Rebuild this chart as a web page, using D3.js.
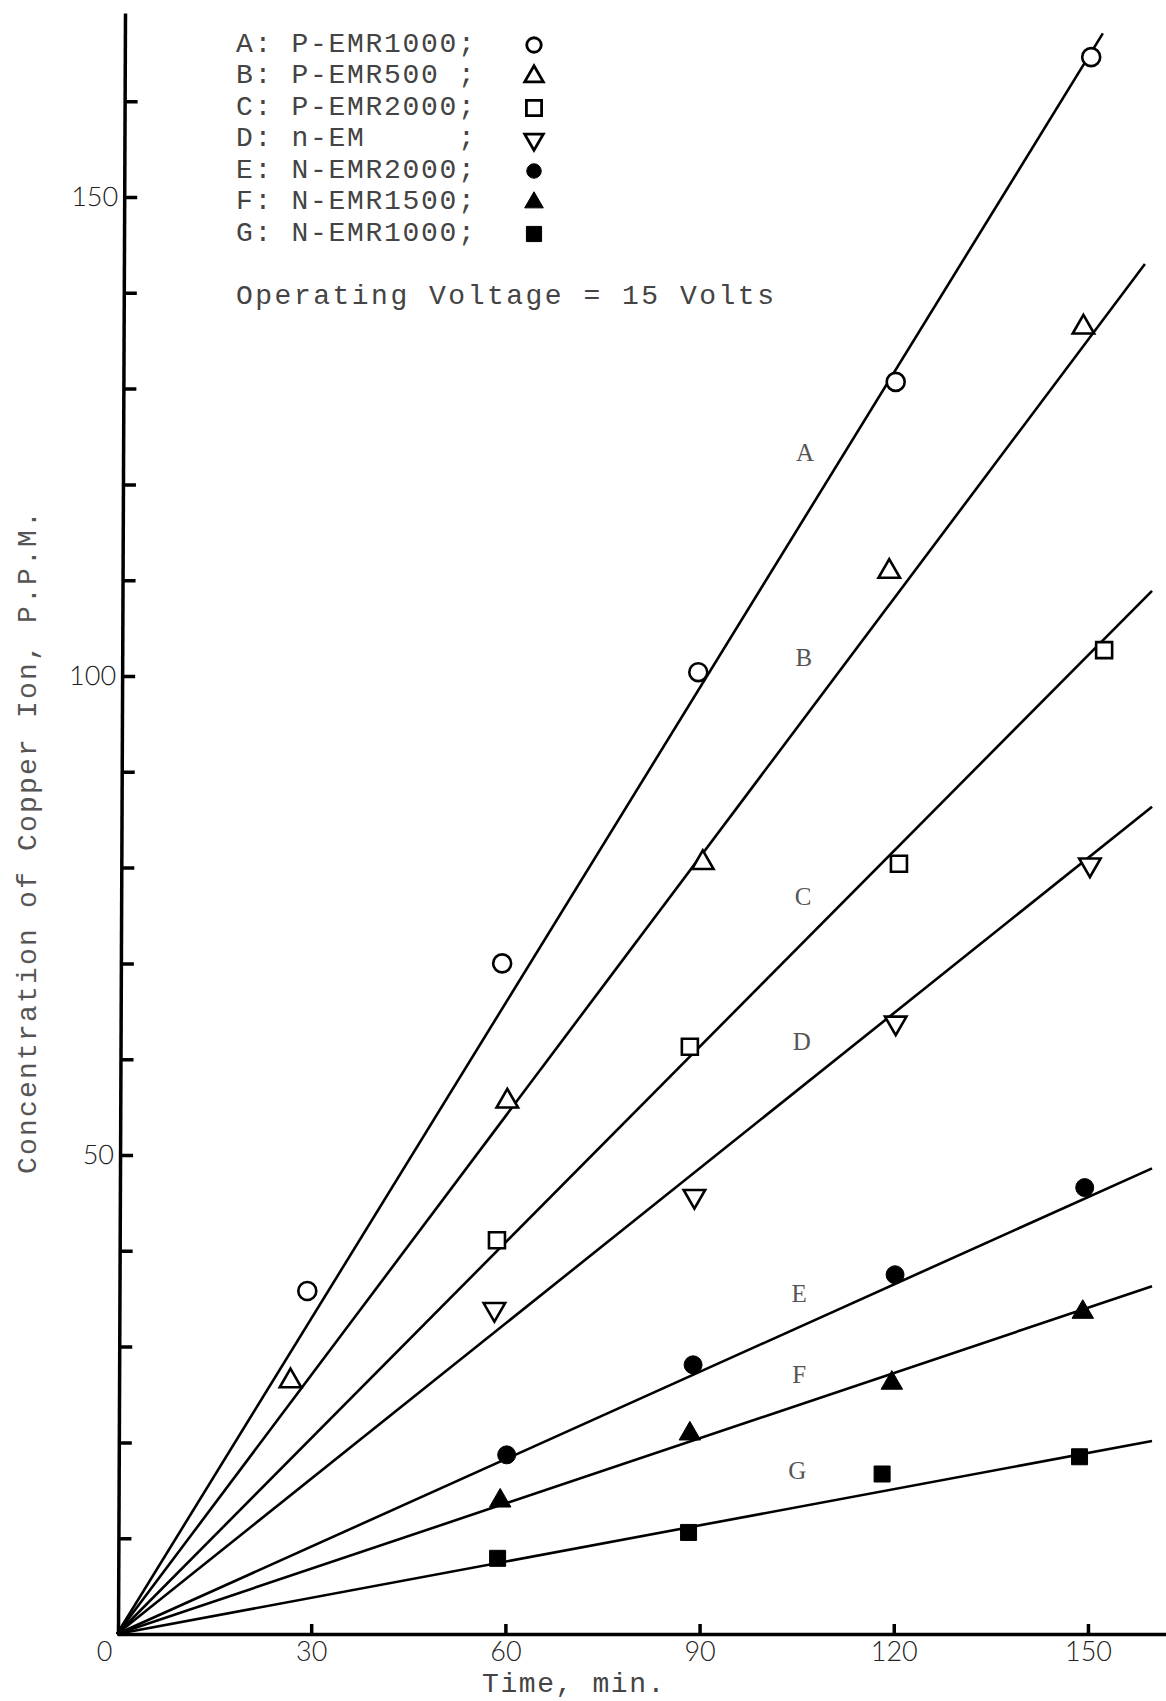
<!DOCTYPE html>
<html>
<head>
<meta charset="utf-8">
<script src="https://cdn.jsdelivr.net/npm/d3@7"></script>
<style>
  html, body { margin: 0; padding: 0; background: #fff; }
  svg { display: block; }
  text { white-space: pre; }
</style>
</head>
<body>
<svg id="chart" width="1166" height="1701"></svg>
<script>
// Copper ion concentration vs. time for seven membrane runs (15 V)
const seriesKeys  = ["A", "B", "C", "D", "E", "F", "G"];
const seriesNames = ["P-EMR1000", "P-EMR500", "P-EMR2000", "n-EM", "N-EMR2000", "N-EMR1500", "N-EMR1000"];

// measured points: time (min) and concentration (p.p.m.)
const timesA = [29.4, 59.5, 89.8, 120.3, 150.5];
const concA  = [35.8, 70.0, 100.4, 130.7, 164.6];
const timesB = [26.8, 60.3, 90.5, 119.3, 149.3];
const concB  = [26.4, 55.6, 80.5, 110.9, 136.4];
const timesC = [58.7, 88.5, 120.8, 152.5];
const concC  = [41.1, 61.3, 80.4, 102.7];
const timesD = [58.3, 89.2, 120.3, 150.3];
const concD  = [33.9, 45.7, 63.8, 80.3];
const timesE = [60.2, 89.0, 120.2, 149.5];
const concE  = [18.7, 28.1, 37.5, 46.6];
const timesF = [59.2, 88.5, 119.7, 149.2];
const concF  = [13.9, 20.9, 26.2, 33.6];
const timesG = [58.8, 88.3, 118.2, 148.7];
const concG  = [7.9, 10.6, 16.7, 18.5];

// straight lines through the origin: rate (p.p.m./min) and last time drawn
const fitRate = [1.097, 0.9005, 0.681, 0.540, 0.304, 0.227, 0.126];
const fitEnd  = [152.3, 158.8, 159.9, 159.9, 159.9, 159.9, 159.9];

// letter tags placed beside each line (time, concentration)
const tagTime = [106.3, 106.1, 106.0, 105.8, 105.4, 105.4, 105.1];
const tagConc = [123.3, 101.9, 77.0, 61.8, 35.5, 27.1, 17.1];

// axis ticks
const xTicks = [0, 30, 60, 90, 120, 150];
const yTicks = [10, 20, 30, 40, 50, 60, 70, 80, 90, 100, 110, 120, 130, 140, 150, 160];
const yLabelled = [50, 100, 150];

const legendNote = "Operating Voltage = 15 Volts";
const xTitle = "Time, min.";
const yTitle = "Concentration of Copper Ion, P.P.M.";

const seriesTimes = [timesA, timesB, timesC, timesD, timesE, timesF, timesG];
const seriesConc  = [concA, concB, concC, concD, concE, concF, concG];

// marker styling per series
const markerShape = ["circle", "triangle", "square", "triangleDown", "circle", "triangle", "square"];
const markerFill  = [false, false, false, false, true, true, true];

const svg = d3.select("#chart");

const x = d3.scaleLinear().domain([0, 162]).range([117, 117 + 162 * 6.473]);
const y = d3.scaleLinear().domain([0, 169.2]).range([1634, 1634 - 169.2 * 9.58]);

const mono = "'Liberation Mono', 'DejaVu Sans Mono', monospace";
const serif = "'Liberation Serif', 'DejaVu Serif', serif";
const digits = "Lato, 'Open Sans', 'DejaVu Sans', sans-serif";

function symbolPath(shape, size) {
  const type = shape === "circle" ? d3.symbolCircle
             : shape === "square" ? d3.symbolSquare
             : d3.symbolTriangle;
  return d3.symbol().type(type).size(size)();
}
function markerSize(shape, big) {
  if (shape === "circle") return big ? 254 : 165;
  if (shape === "square") return big ? 256 : 230;
  return big ? 200 : 150;
}

// ---- axes ----
const xAxis = d3.axisBottom(x)
  .tickValues(xTicks)
  .tickSizeInner(-10)
  .tickSizeOuter(0)
  .tickPadding(8)
  .tickFormat(d3.format("d"));

const gx = svg.append("g")
  .attr("transform", `translate(0,${y(0)})`)
  .call(xAxis);
gx.select(".domain").attr("stroke", "#000").attr("stroke-width", 3.5);
gx.selectAll(".tick line").attr("stroke", "#000").attr("stroke-width", 3.5)
  .filter(d => d === 0).remove();
gx.selectAll(".tick text")
  .attr("font-family", digits).attr("font-weight", 300)
  .attr("font-size", 27).attr("fill", "#222")
  .attr("dx", d => d === 0 ? -13 : 0);

const yAxis = d3.axisLeft(y)
  .tickValues(yTicks)
  .tickSizeInner(-13)
  .tickSizeOuter(0)
  .tickPadding(6)
  .tickFormat(d => yLabelled.includes(d) ? d3.format("d")(d) : "");

// the vertical axis leans very slightly to the right toward its top
const lean = Math.atan(-7 / 1621) * 180 / Math.PI;
const gy = svg.append("g")
  .attr("transform", `translate(${x(0) + 1},${y(0)}) skewX(${lean}) translate(0,${-y(0)})`)
  .call(yAxis);
gy.select(".domain").attr("stroke", "#000").attr("stroke-width", 3.5);
gy.selectAll(".tick line").attr("stroke", "#000").attr("stroke-width", 3.5);
gy.selectAll(".tick text")
  .attr("font-family", digits).attr("font-weight", 300)
  .attr("font-size", 27).attr("fill", "#222");

// axis titles
svg.append("text")
  .attr("x", 482).attr("y", 1692)
  .attr("font-family", mono).attr("font-size", 28)
  .attr("letter-spacing", 1.6).attr("fill", "#444")
  .text(xTitle);

svg.append("text")
  .attr("transform", `translate(36,${(y(0) + y(169.2)) / 2 + 18}) rotate(-90)`)
  .attr("text-anchor", "middle")
  .attr("font-family", mono).attr("font-size", 28)
  .attr("letter-spacing", 2.2).attr("fill", "#555")
  .text(yTitle);

// ---- fitted lines ----
const line = d3.line().x(d => x(d[0])).y(d => y(d[1]));
svg.append("g").selectAll("path")
  .data(seriesKeys.map((k, i) => [[0, 0], [fitEnd[i], fitRate[i] * fitEnd[i]]]))
  .join("path")
  .attr("d", line)
  .attr("fill", "none")
  .attr("stroke", "#000")
  .attr("stroke-width", 2.6);

// ---- measured points ----
seriesKeys.forEach((k, i) => {
  const pts = seriesTimes[i].map((t, j) => [t, seriesConc[i][j]]);
  const shape = markerShape[i];
  svg.append("g").selectAll("path")
    .data(pts)
    .join("path")
    .attr("d", symbolPath(shape, markerSize(shape, true)))
    .attr("transform", d => `translate(${x(d[0])},${y(d[1])})` + (shape === "triangleDown" ? " rotate(180)" : ""))
    .attr("fill", markerFill[i] ? "#000" : "#fff")
    .attr("stroke", "#000")
    .attr("stroke-width", markerFill[i] ? 1 : 2.6);
});

// ---- line tags ----
svg.append("g").selectAll("text")
  .data(seriesKeys)
  .join("text")
  .attr("x", (d, i) => x(tagTime[i]))
  .attr("y", (d, i) => y(tagConc[i]))
  .attr("text-anchor", "middle")
  .attr("dominant-baseline", "central")
  .attr("font-family", serif).attr("font-size", 25)
  .attr("fill", "#555")
  .text(d => d);

// ---- legend ----
const legend = svg.append("g");
const rowY = i => 44 + i * 31.5;
seriesKeys.forEach((k, i) => {
  legend.append("text")
    .attr("x", 236).attr("y", rowY(i))
    .attr("dominant-baseline", "central")
    .attr("font-family", mono).attr("font-size", 28)
    .attr("letter-spacing", 1.7).attr("fill", "#444")
    .text(`${k}: ${seriesNames[i].padEnd(9, " ")};`);
  const shape = markerShape[i];
  legend.append("path")
    .attr("d", symbolPath(shape, markerSize(shape, false)))
    .attr("transform", `translate(534,${rowY(i) + 1})` + (shape === "triangleDown" ? " rotate(180)" : ""))
    .attr("fill", markerFill[i] ? "#000" : "#fff")
    .attr("stroke", "#000")
    .attr("stroke-width", markerFill[i] ? 1 : 2.8);
});
legend.append("text")
  .attr("x", 236).attr("y", 296)
  .attr("dominant-baseline", "central")
  .attr("font-family", mono).attr("font-size", 28)
  .attr("letter-spacing", 2.5).attr("fill", "#444")
  .text(legendNote);
</script>
</body>
</html>
